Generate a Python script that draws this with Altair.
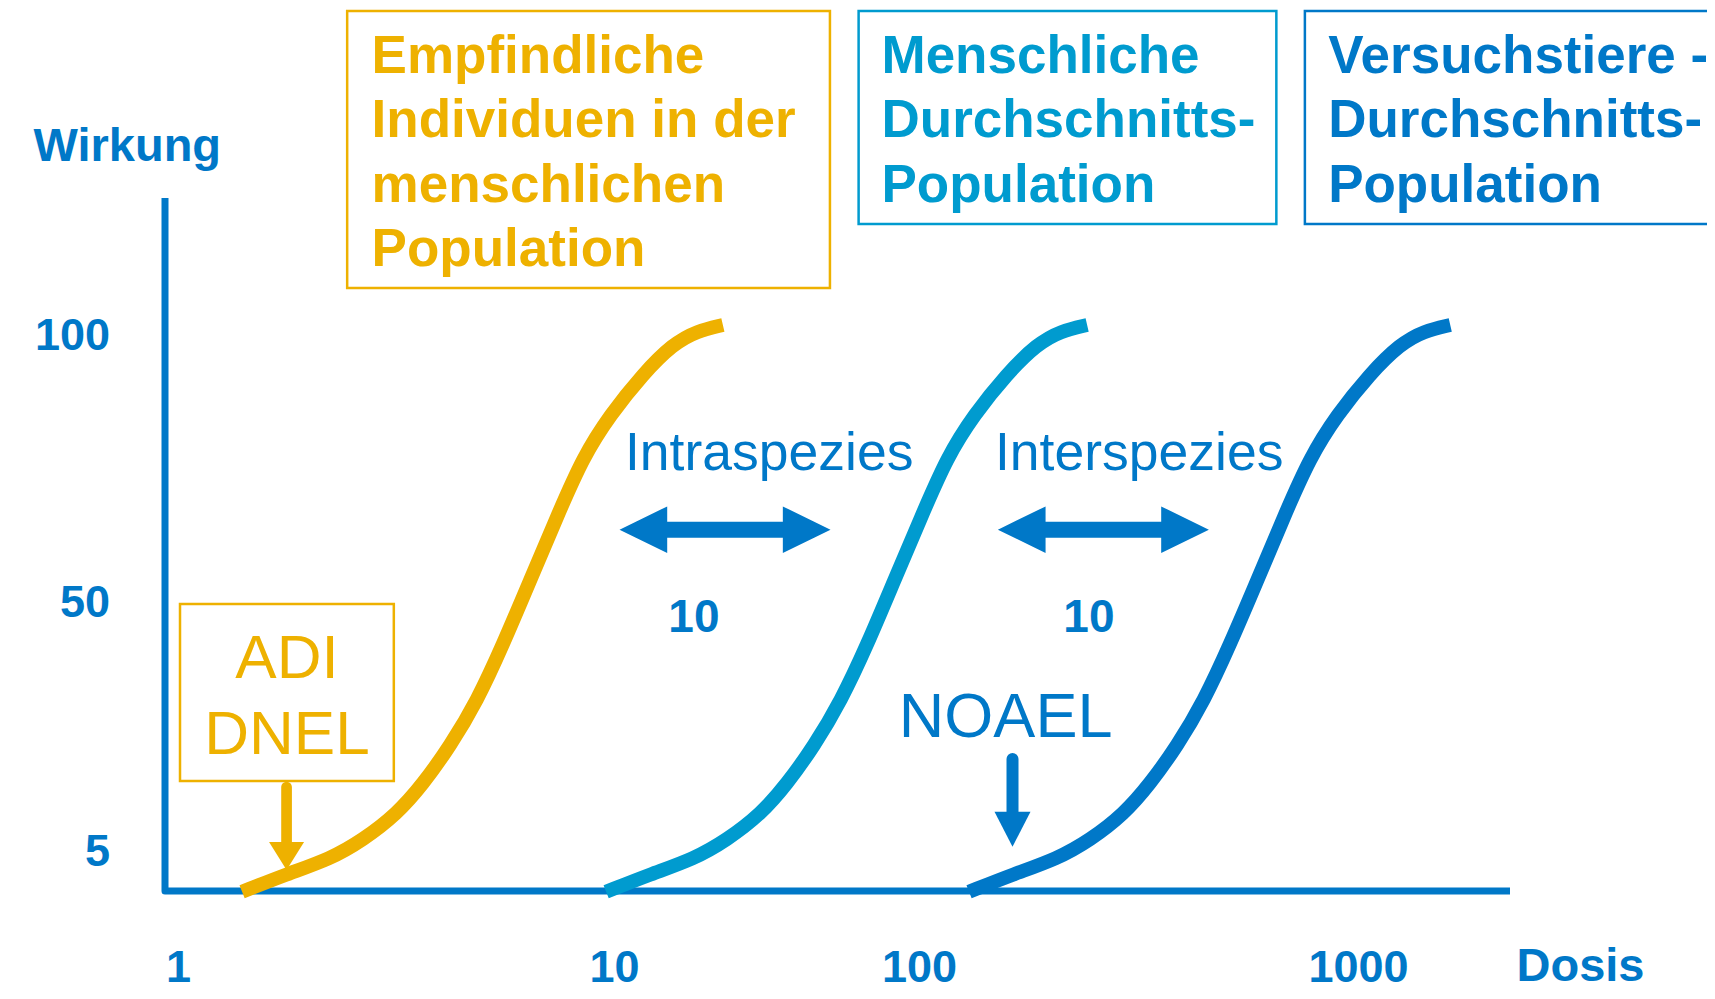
import altair as alt
import pandas as pd

BLUE = "#0078C8"
CYAN = "#009BCF"
YELLOW = "#EEB100"
FONT = "Liberation Sans"

# ---------------- data (x = log10 of dose, y = effect in %) ----------------
series = ["Empfindliche Individuen", "Menschliche Durchschnitts-Population", "Versuchstiere"]
series_colors = [YELLOW, CYAN, BLUE]

effect = [-0.1, 2.13, 4.0, 6.99, 11.69, 17.11, 23.98, 32.11, 42.23, 53.93,
          65.92, 77.15, 85.02, 92.70, 98.31, 100.75, 101.87]
dose_sensitive = [0.147, 0.250, 0.349, 0.424, 0.502, 0.562, 0.624, 0.686, 0.745,
                  0.807, 0.869, 0.929, 0.991, 1.095, 1.193, 1.272, 1.357]
dose_human = [0.982, 1.121, 1.262, 1.370, 1.482, 1.567, 1.656, 1.744, 1.830,
              1.918, 2.005, 2.064, 2.125, 2.200, 2.269, 2.323, 2.383]
dose_animal = [2.114, 2.216, 2.314, 2.390, 2.467, 2.526, 2.588, 2.649, 2.708,
               2.770, 2.831, 2.891, 2.952, 3.027, 3.096, 3.150, 3.210]

x_ticks = [0, 1, 2, 3]
x_tick_labels = ["1", "10", "100", "1000"]
y_ticks = [5, 50, 100]
y_tick_labels = ["5", "50", "100"]

# axis frame (corner at origin)
frame_x = [-0.0298, -0.0298, 3.346]
frame_y = [125.66, 0, 0]

# population boxes
box_series = [series[0], series[1], series[2], series[0]]
box_x1 = [0.388, 1.802, 2.879, 0.0046]
box_x2 = [1.708, 2.814, 3.847, 0.495]
box_y1 = [108.80, 120.79, 120.79, 17.65]
box_y2 = [160.67, 160.67, 160.67, 49.64]

pop_lines = [["Empfindliche", "Individuen in der", "menschlichen", "Population"],
             ["Menschliche", "Durchschnitts-", "Population"],
             ["Versuchstiere -", "Durchschnitts-", "Population"]]
pop_x = [0.444, 1.877, 2.932]
pop_y = [149.06, 149.06, 149.06]

factor_names = ["Intraspezies", "Interspezies"]
factor_name_x = [1.036, 2.173]
factor_name_y = [74.72, 74.72]
factor_values = ["10", "10"]
factor_value_x = [1.262, 2.387]
factor_value_y = [44.63, 44.63]
factor_arrow_x = [1.364, 2.420]
factor_arrow_y = [63.54, 63.54]

noael_label = ["NOAEL"]
noael_x = [1.934]
noael_y = [25.6]
noael_arrow_x = [2.213]
noael_shaft_top = [21.63]
noael_shaft_bottom = [11.51]
noael_head_y = [8.94]

adi_lines = [["ADI", "DNEL"]]
adi_x = [0.25]
adi_y = [36.21]
adi_arrow_x = [0.249]
adi_shaft_top = [16.57]
adi_shaft_bottom = [6.08]
adi_head_y = [4.375]

# ---------------- tables ----------------
curves_df = pd.DataFrame({
    "dose": dose_sensitive + dose_human + dose_animal,
    "effect": effect * 3,
    "series": [series[0]] * len(effect) + [series[1]] * len(effect) + [series[2]] * len(effect),
})
frame_df = pd.DataFrame({"x": frame_x, "y": frame_y, "step": [0, 1, 2]})
box_df = pd.DataFrame({"series": box_series, "x1": box_x1, "x2": box_x2, "y1": box_y1, "y2": box_y2})
pop_df = pd.DataFrame({"series": series, "x": pop_x, "y": pop_y, "lines": pop_lines})
fname_df = pd.DataFrame({"t": factor_names, "x": factor_name_x, "y": factor_name_y})
fval_df = pd.DataFrame({"t": factor_values, "x": factor_value_x, "y": factor_value_y})
farrow_df = pd.DataFrame({"x": factor_arrow_x, "y": factor_arrow_y})
noael_df = pd.DataFrame({"t": noael_label, "x": noael_x, "y": noael_y})
noael_arrow_df = pd.DataFrame({"x": noael_arrow_x, "y1": noael_shaft_top, "y2": noael_shaft_bottom, "yh": noael_head_y})
adi_df = pd.DataFrame({"lines": adi_lines, "x": adi_x, "y": adi_y})
adi_arrow_df = pd.DataFrame({"x": adi_arrow_x, "y1": adi_shaft_top, "y2": adi_shaft_bottom, "yh": adi_head_y})

# ---------------- scales & axes ----------------
xscale = alt.Scale(domain=[-0.0298, 0, 1, 2, 3, 3.346], range=[0, 13, 449, 754, 1193, 1345],
                   nice=False, zero=False)
yscale = alt.Scale(domain=[0, 5, 50, 100, 125.66], range=[693, 653, 404, 137, 0],
                   nice=False, zero=False)
cscale = alt.Scale(domain=series, range=series_colors)


def label_expr(values, labels):
    expr = "''"
    for v, l in reversed(list(zip(values, labels))):
        expr = f"datum.value == {v} ? '{l}' : ({expr})"
    return expr


x_axis = alt.Axis(values=x_ticks, labelExpr=label_expr(x_ticks, x_tick_labels),
                  domain=False, ticks=False, tickSize=0, grid=False,
                  labelFont=FONT, labelFontSize=45, labelFontWeight="bold", labelColor=BLUE,
                  labelBaseline="alphabetic", labelAlign="center", labelPadding=90,
                  labelFlush=False, labelOverlap=False,
                  title="Dosis", titleFont=FONT, titleFontSize=47, titleFontWeight="bold",
                  titleColor=BLUE, titleX=1351, titleY=89.5, titleAlign="left",
                  titleBaseline="alphabetic", titleAngle=0)
y_axis = alt.Axis(values=y_ticks, labelExpr=label_expr(y_ticks, y_tick_labels),
                  domain=False, ticks=False, tickSize=0, grid=False,
                  labelFont=FONT, labelFontSize=45, labelFontWeight="bold", labelColor=BLUE,
                  labelBaseline="middle", labelAlign="right", labelPadding=55.5,
                  labelFlush=False, labelOverlap=False,
                  title="Wirkung", titleFont=FONT, titleFontSize=47, titleFontWeight="bold",
                  titleColor=BLUE, titleX=-132, titleY=-38, titleAlign="left",
                  titleBaseline="alphabetic", titleAngle=0)


def xe(f):
    return alt.X(f"{f}:Q", scale=xscale, axis=x_axis)


def ye(f):
    return alt.Y(f"{f}:Q", scale=yscale, axis=y_axis)


# ---------------- layers ----------------
frame = alt.Chart(frame_df).mark_line(color=BLUE, strokeWidth=7, strokeJoin="round", strokeCap="butt").encode(
    x=xe("x"), y=ye("y"), order="step:Q",
)

curves = alt.Chart(curves_df).mark_line(strokeWidth=14, interpolate="basis", strokeCap="butt").encode(
    x=xe("dose"), y=ye("effect"),
    color=alt.Color("series:N", scale=cscale, legend=None),
)

boxes = alt.Chart(box_df).mark_rect(filled=False, strokeWidth=2.5).encode(
    x=xe("x1"), x2="x2:Q", y=ye("y1"), y2="y2:Q",
    color=alt.Color("series:N", scale=cscale, legend=None),
)

pop_text = alt.Chart(pop_df).mark_text(align="left", baseline="alphabetic", font=FONT, fontSize=53,
                                       fontWeight="bold", lineHeight=64.3).encode(
    x=xe("x"), y=ye("y"), text="lines:N",
    color=alt.Color("series:N", scale=cscale, legend=None),
)

fname_text = alt.Chart(fname_df).mark_text(align="left", baseline="alphabetic", font=FONT, fontSize=53.5,
                                           color=BLUE).encode(x=xe("x"), y=ye("y"), text="t:N")

fval_text = alt.Chart(fval_df).mark_text(align="center", baseline="alphabetic", font=FONT, fontSize=46,
                                         fontWeight="bold", color=BLUE).encode(x=xe("x"), y=ye("y"), text="t:N")

DOUBLE_ARROW = ("M-1,0L-0.548,-0.221L-0.548,-0.0758L0.548,-0.0758L0.548,-0.221L1,0"
                "L0.548,0.221L0.548,0.0758L-0.548,0.0758L-0.548,0.221Z")
farrows = alt.Chart(farrow_df).mark_point(shape=DOUBLE_ARROW, size=44521, filled=True, opacity=1,
                                          color=BLUE, strokeWidth=0).encode(x=xe("x"), y=ye("y"))

noael_text = alt.Chart(noael_df).mark_text(align="left", baseline="alphabetic", font=FONT, fontSize=63,
                                           color=BLUE).encode(x=xe("x"), y=ye("y"), text="t:N")
noael_shaft = alt.Chart(noael_arrow_df).mark_rule(color=BLUE, strokeWidth=12, strokeCap="round").encode(
    x=xe("x"), y=ye("y1"), y2="y2:Q")
noael_head = alt.Chart(noael_arrow_df).mark_point(shape="M-1,-0.972L1,-0.972L0,0.972Z", size=1296, filled=True,
                                                  opacity=1, color=BLUE, strokeWidth=0).encode(x=xe("x"), y=ye("yh"))

adi_text = alt.Chart(adi_df).mark_text(align="center", baseline="alphabetic", font=FONT, fontSize=62,
                                       color=YELLOW, lineHeight=76).encode(x=xe("x"), y=ye("y"), text="lines:N")
adi_shaft = alt.Chart(adi_arrow_df).mark_rule(color=YELLOW, strokeWidth=10.7, strokeCap="round").encode(
    x=xe("x"), y=ye("y1"), y2="y2:Q")
adi_head = alt.Chart(adi_arrow_df).mark_point(shape="M-1,-0.8L1,-0.8L0,0.8Z", size=1225, filled=True,
                                              opacity=1, color=YELLOW, strokeWidth=0).encode(x=xe("x"), y=ye("yh"))

chart = alt.layer(
    frame, curves, boxes, pop_text, fname_text, fval_text, farrows,
    noael_text, noael_shaft, noael_head, adi_text, adi_shaft, adi_head,
).properties(
    width=1345, height=693,
    padding={"left": 157, "top": 190, "right": 197, "bottom": 100},
    autosize=alt.AutoSizeParams(type="none"),
    background="white",
).configure_view(strokeWidth=0)

chart.save("out.html", embed_options={"renderer": "svg", "actions": False})
